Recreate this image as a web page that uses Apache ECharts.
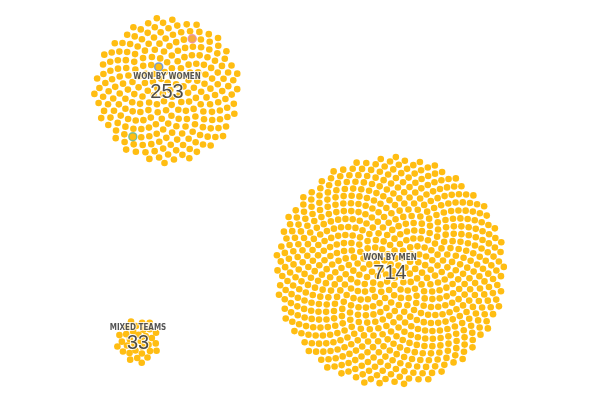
<!DOCTYPE html>
<html>
<head>
<meta charset="utf-8">
<script src="https://cdn.jsdelivr.net/npm/echarts@6/dist/echarts.min.js"></script>
<style>
    html, body { margin: 0; padding: 0; background: #fff; }
    #chart { width: 600px; height: 400px; }
</style>
</head>
<body>
<div id="chart"></div>
<script>
(function () {
    "use strict";

    // data
    var groups = ['WON BY WOMEN', 'WON BY MEN', 'MIXED TEAMS'];
    var counts = [253, 714, 33];
    // highlighted dots in the women cluster (dot index, border colour)
    var highlightIdx = [154, 28, 158];
    var highlightColor = ['#E9899B', '#5C8ED8', '#5FB596'];

    // layout (pixel space of the 600x400 canvas)
    var centers = [[167, 90], [390, 271], [138, 341]];
    var radii = [73, 115, 22];

    var GOLDEN = Math.PI * (3 - Math.sqrt(5));
    var DOT = '#FFBD12';

    function spiral(n, R, c) {
        var k = R / Math.sqrt(n - 0.5);
        var pts = [];
        for (var i = 0; i < n; i++) {
            var r = k * Math.sqrt(i + 0.5);
            var t = i * GOLDEN;
            pts.push([c[0] + r * Math.cos(t), c[1] + r * Math.sin(t)]);
        }
        return pts;
    }

    var series = [];
    var clusters = counts.map(function (n, g) {
        return spiral(n, radii[g], centers[g]);
    });

    clusters.forEach(function (pts) {
        series.push({
            type: 'scatter',
            symbolSize: 6.6,
            silent: true,
            itemStyle: { color: DOT, opacity: 1 },
            data: pts
        });
    });

    // highlighted dots
    series.push({
        type: 'scatter',
        symbolSize: 8,
        silent: true,
        data: highlightIdx.map(function (idx, j) {
            return {
                value: clusters[0][idx],
                itemStyle: {
                    color: j === 0 ? '#F6A646' : DOT,
                    borderColor: highlightColor[j],
                    borderWidth: 1.5
                }
            };
        })
    });

    // labels
    series.push({
        type: 'scatter',
        symbolSize: 0,
        silent: true,
        z: 10,
        data: centers.map(function (c, g) {
            return { value: c, name: groups[g] };
        }),
        label: {
            show: true,
            position: 'inside',
            offset: [0, -3],
            formatter: function (p) {
                return '{a|' + groups[p.dataIndex] + '}\n{b|' + counts[p.dataIndex] + '}';
            },
            rich: {
                a: {
                    fontFamily: '"DejaVu Sans Condensed", "Liberation Sans Narrow", sans-serif',
                    fontWeight: 'bold',
                    fontSize: 8,
                    lineHeight: 11,
                    color: '#2a2a2a',
                    textBorderColor: '#fff',
                    textBorderWidth: 2,
                    align: 'center'
                },
                b: {
                    fontFamily: '"Liberation Sans", Arial, sans-serif',
                    fontSize: 20,
                    lineHeight: 20,
                    color: '#222',
                    textBorderColor: '#fff',
                    textBorderWidth: 2,
                    align: 'center'
                }
            }
        }
    });

    var myChart = echarts.init(document.getElementById('chart'));
    myChart.setOption({
        animation: false,
        backgroundColor: '#fff',
        grid: { left: 0, right: 0, top: 0, bottom: 0 },
        xAxis: { type: 'value', min: 0, max: 600, show: false },
        yAxis: { type: 'value', min: 0, max: 400, inverse: true, show: false },
        series: series
    });
})();
</script>
</body>
</html>
